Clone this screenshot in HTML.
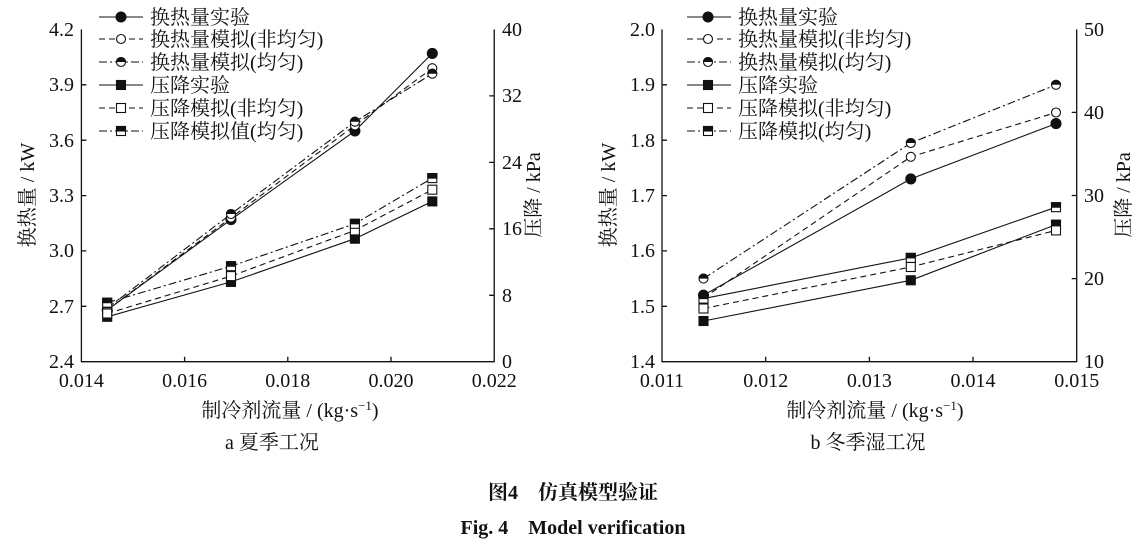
<!DOCTYPE html>
<html><head><meta charset="utf-8"><style>
body{margin:0;background:#fff;}
svg{display:block;}
text{font-family:"Liberation Serif","Noto Serif CJK SC",serif;fill:#111;}
.t{font-size:20px;}
</style></head><body>
<svg width="1147" height="547" viewBox="0 0 1147 547" xmlns="http://www.w3.org/2000/svg">
<defs>
<clipPath id="hc"><rect x="-6" y="-6" width="12" height="6"/></clipPath>
</defs>
<g stroke="#111" stroke-width="1.3" fill="none">
<polyline points="81.4,29.4 81.4,361.7 494.2,361.7 494.2,29.4"/>
<path d="M81.4,84.8h5M81.4,140.2h5M81.4,195.6h5M81.4,250.9h5M81.4,306.3h5
M494.2,95.9h-5M494.2,162.4h-5M494.2,228.8h-5M494.2,295.3h-5
M184.6,361.7v-5M287.8,361.7v-5M391,361.7v-5"/>
<polyline points="662,29.4 662,361.7 1076.7,361.7 1076.7,29.4"/>
<path d="M662,84.8h5M662,140.2h5M662,195.6h5M662,250.9h5M662,306.3h5
M1076.7,112.4h-5M1076.7,195.5h-5M1076.7,278.6h-5
M765.7,361.7v-5M869.4,361.7v-5M973,361.7v-5"/>
</g>
<g stroke="#111" stroke-width="1.1" fill="none">
<polyline points="107.2,310 231,219.6 354.9,130.9 432.3,53.4"/>
<polyline stroke-dasharray="6,4" points="107.2,310 231,217.7 354.9,125.4 432.3,68.2"/>
<polyline stroke-dasharray="8,3,2,3" points="107.2,308.2 231,214 354.9,121.7 432.3,73.7"/>
<polyline points="107.2,316.8 231,281.9 354.9,238.7 432.3,201.4"/>
<polyline stroke-dasharray="6,4" points="107.2,313.5 231,276.1 354.9,230.4 432.3,189.7"/>
<polyline stroke-dasharray="8,3,2,3" points="107.2,302.7 231,266.2 354.9,223.8 432.3,178.1"/>
<polyline points="703.5,295.2 910.8,178.9 1056,123.6"/>
<polyline stroke-dasharray="6,4" points="703.5,298 910.8,156.8 1056,112.5"/>
<polyline stroke-dasharray="8,3,2,3" points="703.5,278.6 910.8,143 1056,84.8"/>
<polyline points="703.5,321 910.8,280.3 1056,224.6"/>
<polyline points="703.5,298.6 910.8,257.9 1056,207.2"/>
<polyline stroke-dasharray="6,4" points="703.5,308.5 910.8,267 1056,230.4"/>
<path d="M99,17h44"/><path d="M99,39h44" stroke-dasharray="6,4"/><path d="M99,62h44" stroke-dasharray="8,3,2,3"/>
<path d="M99,85h44"/><path d="M99,108h44" stroke-dasharray="6,4"/><path d="M99,131h44" stroke-dasharray="8,3,2,3"/>
<path d="M687,17h44"/><path d="M687,39h44" stroke-dasharray="6,4"/><path d="M687,62h44" stroke-dasharray="8,3,2,3"/>
<path d="M687,85h44"/><path d="M687,108h44" stroke-dasharray="6,4"/><path d="M687,131h44" stroke-dasharray="8,3,2,3"/>
</g>
<g stroke="#111" stroke-width="1.1">
<g fill="#111">
<circle cx="107.2" cy="310" r="5"/><circle cx="231" cy="219.6" r="5"/><circle cx="354.9" cy="130.9" r="5"/><circle cx="432.3" cy="53.4" r="5"/>
<circle cx="703.5" cy="295.2" r="5"/><circle cx="910.8" cy="178.9" r="5"/><circle cx="1056" cy="123.6" r="5"/>
<circle cx="121" cy="17" r="5"/><circle cx="708" cy="17" r="5"/>
</g>
<g fill="#fff">
<circle cx="107.2" cy="310" r="4.5"/><circle cx="231" cy="217.7" r="4.5"/><circle cx="354.9" cy="125.4" r="4.5"/><circle cx="432.3" cy="68.2" r="4.5"/>
<circle cx="703.5" cy="298" r="4.5"/><circle cx="910.8" cy="156.8" r="4.5"/><circle cx="1056" cy="112.5" r="4.5"/>
<circle cx="121" cy="39" r="4.5"/><circle cx="708" cy="39" r="4.5"/>
</g>
<g>
<g transform="translate(107.2,308.2)"><circle r="4.5" fill="#fff"/><circle r="4.5" fill="#111" clip-path="url(#hc)"/></g>
<g transform="translate(231,214)"><circle r="4.5" fill="#fff"/><circle r="4.5" fill="#111" clip-path="url(#hc)"/></g>
<g transform="translate(354.9,121.7)"><circle r="4.5" fill="#fff"/><circle r="4.5" fill="#111" clip-path="url(#hc)"/></g>
<g transform="translate(432.3,73.7)"><circle r="4.5" fill="#fff"/><circle r="4.5" fill="#111" clip-path="url(#hc)"/></g>
<g transform="translate(703.5,278.6)"><circle r="4.5" fill="#fff"/><circle r="4.5" fill="#111" clip-path="url(#hc)"/></g>
<g transform="translate(910.8,143)"><circle r="4.5" fill="#fff"/><circle r="4.5" fill="#111" clip-path="url(#hc)"/></g>
<g transform="translate(1056,84.8)"><circle r="4.5" fill="#fff"/><circle r="4.5" fill="#111" clip-path="url(#hc)"/></g>
<g transform="translate(121,62)"><circle r="4.5" fill="#fff"/><circle r="4.5" fill="#111" clip-path="url(#hc)"/></g>
<g transform="translate(708,62)"><circle r="4.5" fill="#fff"/><circle r="4.5" fill="#111" clip-path="url(#hc)"/></g>
</g>
<g fill="#111">
<rect x="102.7" y="312.3" width="9" height="9"/><rect x="226.5" y="277.4" width="9" height="9"/><rect x="350.4" y="234.2" width="9" height="9"/><rect x="427.8" y="196.9" width="9" height="9"/>
<rect x="699" y="316.5" width="9" height="9"/><rect x="906.3" y="275.8" width="9" height="9"/><rect x="1051.5" y="220.1" width="9" height="9"/>
<rect x="116.5" y="80.5" width="9" height="9"/><rect x="703.5" y="80.5" width="9" height="9"/>
</g>
<g fill="#fff">
<rect x="102.7" y="309" width="9" height="9"/><rect x="226.5" y="271.6" width="9" height="9"/><rect x="350.4" y="225.9" width="9" height="9"/><rect x="427.8" y="185.2" width="9" height="9"/>
<rect x="699" y="304" width="9" height="9"/><rect x="906.3" y="262.5" width="9" height="9"/><rect x="1051.5" y="225.9" width="9" height="9"/>
<rect x="116.5" y="103.5" width="9" height="9"/><rect x="703.5" y="103.5" width="9" height="9"/>
</g>
<g>
<g transform="translate(107.2,302.7)"><rect x="-4.5" y="-4.5" width="9" height="9" fill="#fff"/><rect x="-4.5" y="-4.5" width="9" height="4.5" fill="#111"/></g>
<g transform="translate(231,266.2)"><rect x="-4.5" y="-4.5" width="9" height="9" fill="#fff"/><rect x="-4.5" y="-4.5" width="9" height="4.5" fill="#111"/></g>
<g transform="translate(354.9,223.8)"><rect x="-4.5" y="-4.5" width="9" height="9" fill="#fff"/><rect x="-4.5" y="-4.5" width="9" height="4.5" fill="#111"/></g>
<g transform="translate(432.3,178.1)"><rect x="-4.5" y="-4.5" width="9" height="9" fill="#fff"/><rect x="-4.5" y="-4.5" width="9" height="4.5" fill="#111"/></g>
<g transform="translate(703.5,298.6)"><rect x="-4.5" y="-4.5" width="9" height="9" fill="#fff"/><rect x="-4.5" y="-4.5" width="9" height="4.5" fill="#111"/></g>
<g transform="translate(910.8,257.9)"><rect x="-4.5" y="-4.5" width="9" height="9" fill="#fff"/><rect x="-4.5" y="-4.5" width="9" height="4.5" fill="#111"/></g>
<g transform="translate(1056,207.2)"><rect x="-4.5" y="-4.5" width="9" height="9" fill="#fff"/><rect x="-4.5" y="-4.5" width="9" height="4.5" fill="#111"/></g>
<g transform="translate(121,131)"><rect x="-4.5" y="-4.5" width="9" height="9" fill="#fff"/><rect x="-4.5" y="-4.5" width="9" height="4.5" fill="#111"/></g>
<g transform="translate(708,131)"><rect x="-4.5" y="-4.5" width="9" height="9" fill="#fff"/><rect x="-4.5" y="-4.5" width="9" height="4.5" fill="#111"/></g>
</g>
</g>
<g class="t" text-anchor="end">
<text x="74" y="36">4.2</text><text x="74" y="91">3.9</text><text x="74" y="147">3.6</text><text x="74" y="202">3.3</text><text x="74" y="257">3.0</text><text x="74" y="313">2.7</text><text x="74" y="368">2.4</text>
<text x="655" y="36">2.0</text><text x="655" y="91">1.9</text><text x="655" y="147">1.8</text><text x="655" y="202">1.7</text><text x="655" y="257">1.6</text><text x="655" y="313">1.5</text><text x="655" y="368">1.4</text>
</g>
<g class="t" text-anchor="start">
<text x="502" y="36">40</text><text x="502" y="102">32</text><text x="502" y="169">24</text><text x="502" y="235">16</text><text x="502" y="302">8</text><text x="502" y="368">0</text>
<text x="1084" y="36">50</text><text x="1084" y="119">40</text><text x="1084" y="202">30</text><text x="1084" y="285">20</text><text x="1084" y="368">10</text>
</g>
<g class="t" text-anchor="middle">
<text x="81.4" y="387">0.014</text><text x="184.6" y="387">0.016</text><text x="287.8" y="387">0.018</text><text x="391" y="387">0.020</text><text x="494.2" y="387">0.022</text>
<text x="662" y="387">0.011</text><text x="765.7" y="387">0.012</text><text x="869.4" y="387">0.013</text><text x="973" y="387">0.014</text><text x="1076.7" y="387">0.015</text>
<text x="290" y="417">制冷剂流量 / (kg·s<tspan font-size="13" dy="-7">−1</tspan><tspan dy="7">)</tspan></text>
<text x="875" y="417">制冷剂流量 / (kg·s<tspan font-size="13" dy="-7">−1</tspan><tspan dy="7">)</tspan></text>
<text x="272" y="449">a  夏季工况</text>
<text x="868" y="449">b  冬季湿工况</text>
<text transform="translate(34,195) rotate(-90)">换热量 / kW</text>
<text transform="translate(615,195) rotate(-90)">换热量 / kW</text>
<text transform="translate(540,195) rotate(-90)">压降 / kPa</text>
<text transform="translate(1130,195) rotate(-90)">压降 / kPa</text>
</g>
<g class="t">
<text x="150" y="24">换热量实验</text><text x="150" y="46">换热量模拟(非均匀)</text><text x="150" y="69">换热量模拟(均匀)</text>
<text x="150" y="92">压降实验</text><text x="150" y="115">压降模拟(非均匀)</text><text x="150" y="138">压降模拟值(均匀)</text>
<text x="738" y="24">换热量实验</text><text x="738" y="46">换热量模拟(非均匀)</text><text x="738" y="69">换热量模拟(均匀)</text>
<text x="738" y="92">压降实验</text><text x="738" y="115">压降模拟(非均匀)</text><text x="738" y="138">压降模拟(均匀)</text>
</g>
<g text-anchor="middle" font-weight="bold" font-size="20">
<text x="573" y="499" font-family="Liberation Sans,Noto Sans CJK SC,sans-serif">图4　仿真模型验证</text>
<text x="573" y="534">Fig. 4　Model verification</text>
</g>
</svg>
</body></html>
